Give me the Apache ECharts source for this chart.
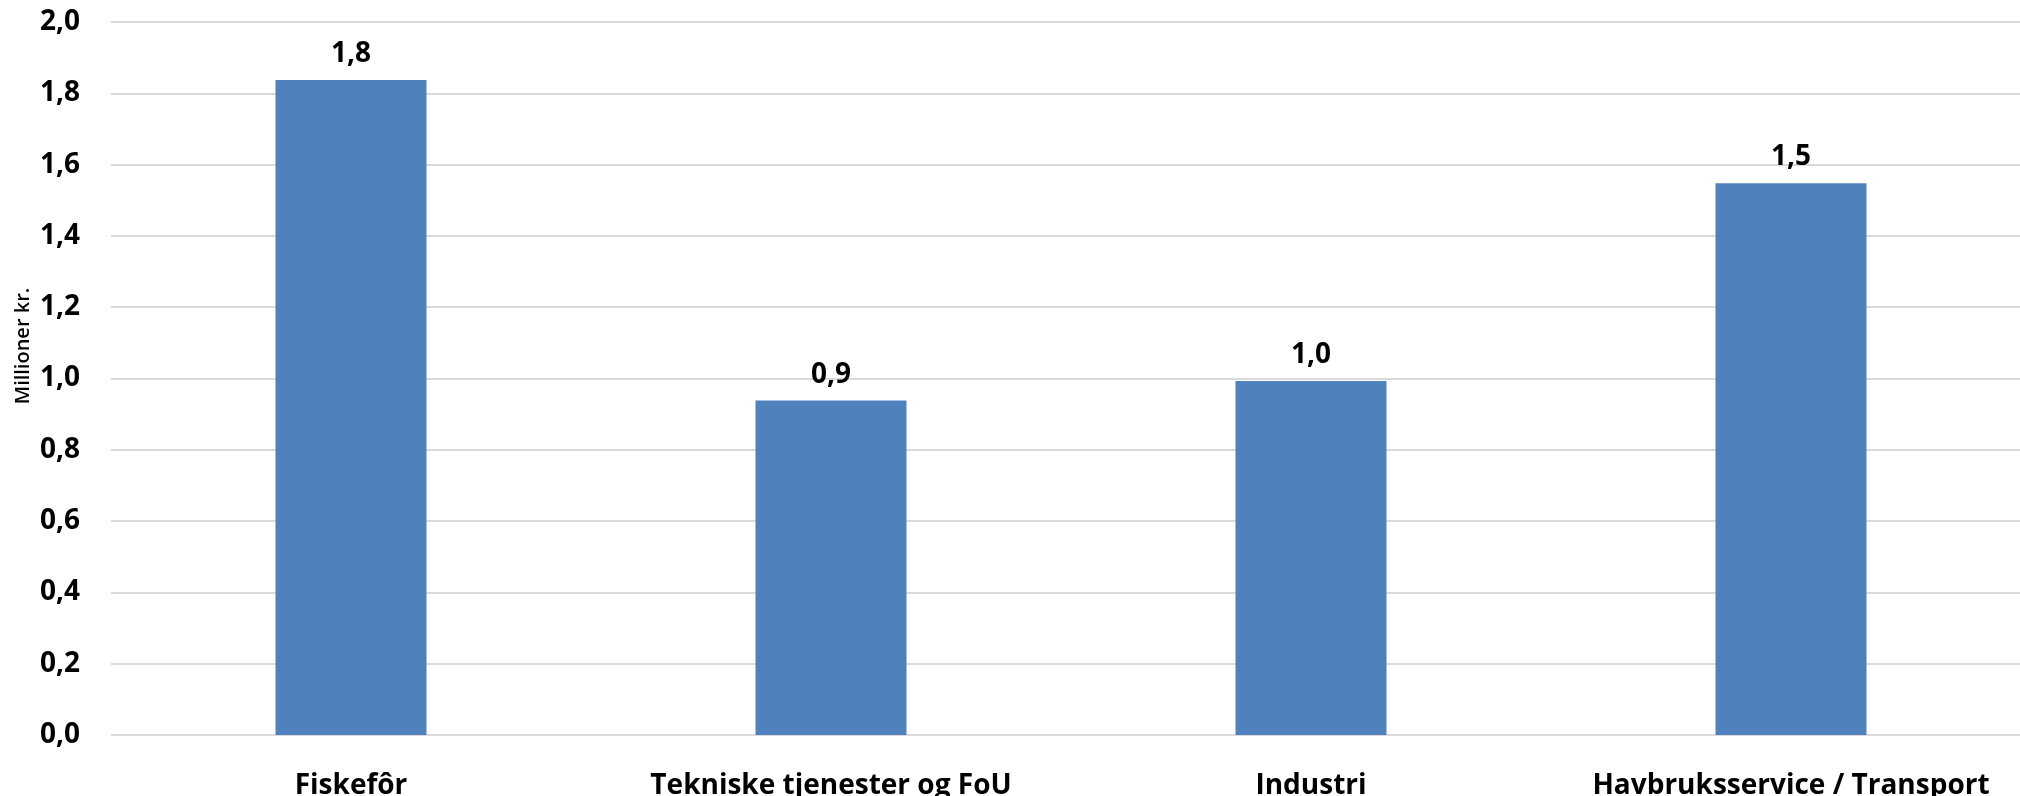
<!DOCTYPE html>
<html>
<head>
<meta charset="utf-8">
<script src="https://cdn.jsdelivr.net/npm/echarts@6/dist/echarts.min.js"></script>
<style>
  html, body { margin: 0; padding: 0; background: #fff; overflow: hidden; }
  #main { width: 2040px; height: 796px; }
</style>
</head>
<body>
<div id="main"></div>
<script type="text/javascript">
    // data
    var categories = ['Fiskefôr', 'Tekniske tjenester og FoU', 'Industri', 'Havbruksservice / Transport'];
    var values = [1.837, 0.938, 0.993, 1.548];
    var yTicks = [0, 0.2, 0.4, 0.6, 0.8, 1.0, 1.2, 1.4, 1.6, 1.8, 2.0];

    function komma(v, d) {
        return v.toFixed(d).replace('.', ',');
    }

    var font = '"Open Sans", "Liberation Sans", sans-serif';
    var myChart = echarts.init(document.getElementById('main'));
    myChart.setOption({
        animation: false,
        grid: {
            left: 111,
            top: 22,
            width: 1920,
            height: 713,
            outerBoundsMode: 'none'
        },
        xAxis: {
            type: 'category',
            data: categories,
            axisLine: { show: false },
            axisTick: { show: false },
            axisLabel: {
                interval: 0,
                hideOverlap: false,
                color: '#000',
                fontFamily: font,
                fontWeight: 'bold',
                fontSize: 28,
                margin: 37
            }
        },
        yAxis: {
            type: 'value',
            min: yTicks[0],
            max: yTicks[yTicks.length - 1],
            interval: 0.2,
            axisLine: { show: false },
            axisTick: { show: false },
            splitLine: { lineStyle: { color: '#d9d9d9', width: 2 } },
            axisLabel: {
                color: '#000',
                fontFamily: font,
                fontWeight: 'bold',
                fontSize: 28,
                margin: 31,
                formatter: function (v) { return komma(v, 1); }
            }
        },
        graphic: [{
            type: 'text',
            x: 23,
            y: 346,
            rotation: Math.PI / 2,
            style: {
                text: 'Millioner kr.',
                fill: '#000',
                textAlign: 'center',
                textVerticalAlign: 'middle',
                font: '600 20px ' + font
            }
        }],
        series: [{
            type: 'bar',
            data: values,
            barWidth: 151,
            itemStyle: { color: '#4f81bd' },
            label: {
                show: true,
                position: 'top',
                distance: 12,
                color: '#000',
                fontFamily: font,
                fontWeight: 'bold',
                fontSize: 28,
                formatter: function (p) { return komma(p.value, 1); }
            }
        }]
    });
</script>
</body>
</html>
